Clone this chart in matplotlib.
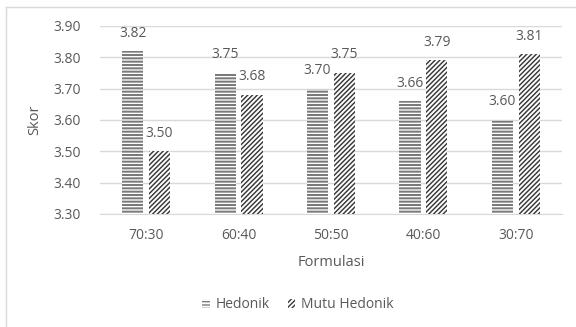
import numpy as np
import matplotlib
matplotlib.use("Agg")
import matplotlib.pyplot as plt
from matplotlib.patches import Patch
from matplotlib.lines import Line2D

# Skor rata-rata per formulasi
formulasi = ["70:30", "60:40", "50:50", "40:60", "30:70"]
hedonik = [3.82, 3.75, 3.70, 3.66, 3.60]
mutu_hedonik = [3.50, 3.68, 3.75, 3.79, 3.81]
yticks = [3.30, 3.40, 3.50, 3.60, 3.70, 3.80, 3.90]

plt.rcParams["font.family"] = ["Open Sans", "DejaVu Sans"]
txt = "#595959"
c_hed, h_hed, lw_hed = "#7a7a7a", "-----", 1.45
c_mutu, h_mutu, lw_mutu = "#383838", "///////", 1.05


def set_hlw(patches, lw):
    for p in patches:
        if hasattr(p, "set_hatch_linewidth"):
            p.set_hatch_linewidth(lw)


fig = plt.figure(figsize=(5.76, 3.27), dpi=100)
ax = fig.add_axes([0.1736, 0.3456, 0.8021, 0.5749])

x = np.arange(len(formulasi))
w = 0.23
off = 0.145
b1 = ax.bar(x - off, hedonik, w, facecolor="white",
            edgecolor=c_hed, hatch=h_hed, linewidth=0, zorder=3)
b2 = ax.bar(x + off, mutu_hedonik, w, facecolor="white",
            edgecolor=c_mutu, hatch=h_mutu, linewidth=0, zorder=3)
hl1 = Patch(facecolor="white", edgecolor=c_hed, hatch=h_hed, linewidth=0)
hl2 = Patch(facecolor="white", edgecolor=c_mutu, hatch=h_mutu, linewidth=0)
set_hlw(list(b1) + [hl1], lw_hed)
set_hlw(list(b2) + [hl2], lw_mutu)

# nilai di atas batang
for bars, vals in [(b1, hedonik), (b2, mutu_hedonik)]:
    for r, v in zip(bars, vals):
        ax.annotate(f"{v:.2f}", (r.get_x() + r.get_width() / 2, v),
                    xytext=(0, 13), textcoords="offset points",
                    ha="center", va="center", fontsize=10, color=txt)

ax.set_ylim(3.30, 3.90)
ax.set_xlim(-0.5, 4.5)
ax.set_yticks(yticks)
ax.set_yticklabels([f"{t:.2f}" for t in yticks])
ax.set_xticks(x)
ax.set_xticklabels(formulasi)
ax.tick_params(axis="both", length=0, labelsize=10, labelcolor=txt)
ax.tick_params(axis="y", pad=14)
ax.tick_params(axis="x", pad=10)
ax.grid(axis="y", color="#d9d9d9", linewidth=1, zorder=0)
for s in ["top", "right", "left"]:
    ax.spines[s].set_visible(False)
ax.spines["bottom"].set_color("#d9d9d9")
ax.set_axisbelow(True)

fig.text(35 / 576, 1 - 120 / 327, "Skor", rotation=90, ha="center",
         va="center", fontsize=10.5, color=txt)
fig.text(331 / 576, 1 - 262 / 327, "Formulasi", ha="center",
         va="center", fontsize=10.5, color=txt)

fig.legend([hl1, hl2], ["Hedonik", "Mutu Hedonik"], loc="center",
           bbox_to_anchor=(298 / 576, 1 - 305 / 327), ncol=2, frameon=False,
           fontsize=10, labelcolor=txt, handlelength=0.55, handleheight=0.55,
           handletextpad=0.4, columnspacing=1.3)

# bingkai area grafik
fig.add_artist(Line2D([6 / 576, 1], [1 - 7 / 327] * 2, color="#d9d9d9", lw=1))
fig.add_artist(Line2D([6 / 576] * 2, [0, 1 - 7 / 327], color="#d9d9d9", lw=1))

fig.savefig("out.png", dpi=100)
